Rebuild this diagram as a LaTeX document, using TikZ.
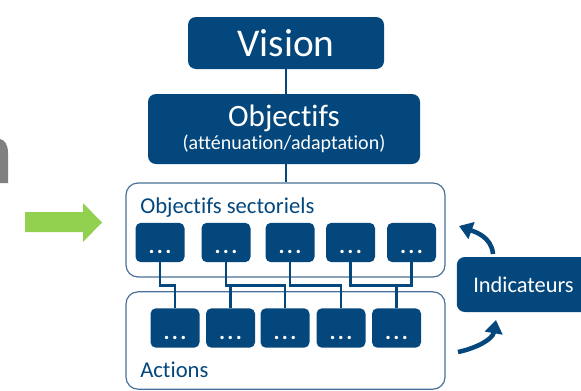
\documentclass[tikz,border=0pt]{standalone}
\usepackage{fontspec}
\setmainfont{Carlito}[RawFeature={-liga;-clig;-dlig}]
\usetikzlibrary{arrows.meta,positioning}
\definecolor{navyblue}{RGB}{4,71,124}
\definecolor{frameblue}{RGB}{72,112,152}
\definecolor{arrowgreen}{RGB}{146,208,80}
\definecolor{fragmentgrey}{RGB}{128,128,128}
\newcommand{\dotsrow}{.\kern1.8pt.\kern1.8pt.}

\begin{document}
\begin{tikzpicture}[x=0.75pt, y=-0.75pt,
    bigbox/.style={fill=navyblue, rounded corners=6pt, text=white,
                   align=center, inner sep=0pt},
    groupbox/.style={draw=frameblue, line width=0.9pt, rounded corners=9pt,
                     minimum width=239.25pt},
    dotbox/.style={fill=navyblue, rounded corners=4pt, text=white,
                   minimum width=36.75pt, minimum height=29.5pt, inner sep=0pt,
                   text height=17pt, text depth=0pt,
                   font=\fontsize{17}{17}\selectfont\bfseries},
    grouplabel/.style={anchor=base west, text=navyblue, inner sep=0pt,
                       font=\fontsize{17}{18}\selectfont},
    link/.style={navyblue, line width=1.7pt},
    loop/.style={navyblue, line width=3.4pt,
                 -{Triangle[width=13pt, length=10pt]}}
  ]
    \useasboundingbox (0,0) rectangle (581,390);

    % cut-off letter and green arrow at the left
    \fill[fragmentgrey] (0,183) -- (0,139) .. controls (5,140) and (8,145) .. (8,153)
        -- (8,183) -- cycle;
    \fill[arrowgreen] (25,212) -- (83,212) -- (83,203) -- (102,222.5) -- (83,242)
        -- (83,232) -- (25,232) -- cycle;

    % top of the hierarchy
    \node[bigbox, minimum width=147pt, minimum height=39pt,
          font=\fontsize{29.5}{30}\selectfont] (vision) at (286,43) {Vision};
    \node[bigbox, minimum width=204pt, minimum height=52.5pt] (obj) at (284,129)
        {{\fontsize{23.3}{24}\selectfont Objectifs}\\[1pt]
         {\fontsize{15}{16}\selectfont (atténuation/adaptation)}};

    % the two groups
    \node[groupbox, minimum height=70.5pt] (sect) at (285.5,230) {};
    \node[groupbox, minimum height=73pt] (act) at (285.5,340.5) {};
    \node[grouplabel] (sectlabel) at (140,213) {Objectifs sectoriels};
    \node[grouplabel] (actlabel) at (140,377) {Actions};

    \foreach \i/\x in {1/160,2/226,3/290,4/350.5,5/411.5}
      \node[dotbox] (t\i) at (\x,242.5) {\dotsrow};
    \foreach \i/\x in {1/175,2/230.5,3/285,4/341,5/396.5}
      \node[dotbox] (a\i) at (\x,328) {\dotsrow};

    \node[bigbox, minimum width=100pt, minimum height=41.25pt,
          font=\fontsize{16.8}{18}\selectfont] (ind) at (523.5,284.5) {Indicateurs};

    % links
    \coordinate (bus) at (0,285.5);
    \draw[link] (vision.south) -- (vision.south |- obj.north);
    \draw[link] (vision.south |- obj.south) -- (vision.south |- sect.north);
    \draw[link] (t1.south) |- (bus -| a1.north) -- (a1.north);
    \draw[link] (t2.south) |- (bus -| a3.north) -- (a3.north);
    \draw[link] (bus -| a2.north) -- (a2.north);
    \draw[link] (t3.south) |- (bus -| a4.north) -- (a4.north);
    \draw[link] (t4.south) |- (bus -| t5.south) -- (t5.south);
    \draw[link] (bus -| a5.north) -- (a5.north);

    % feedback arrows
    \coordinate (upstart) at (493,254);
    \coordinate (upend) at (459,226);
    \coordinate (lowstart) at (458,352);
    \coordinate (lowend) at (496,320);
    \draw[loop] (upstart) to[out=95, in=-20] (upend);
    \draw[loop] (lowstart) to[out=12, in=-100] (lowend);
  \end{tikzpicture}
\end{document}
